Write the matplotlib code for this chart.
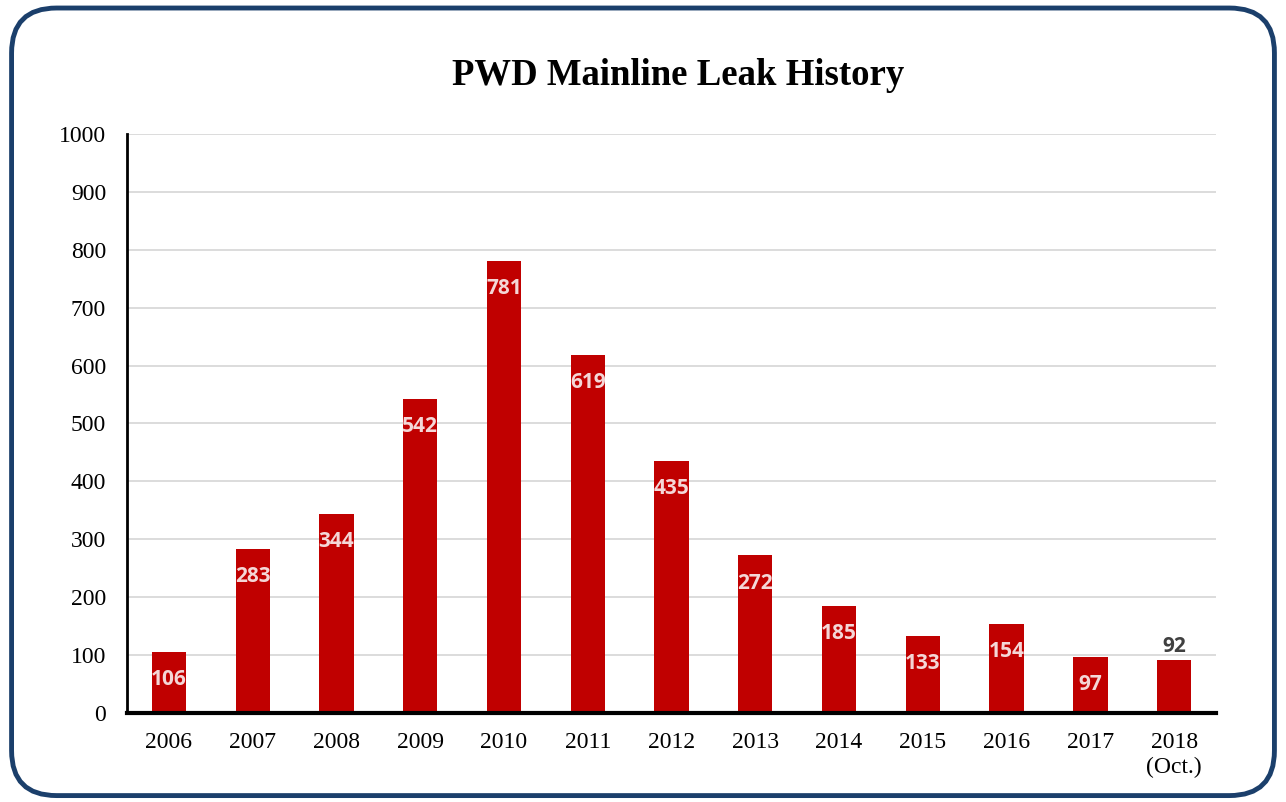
import matplotlib
matplotlib.use("Agg")
import matplotlib.pyplot as plt
from matplotlib.patches import FancyBboxPatch

# Data
years = ['2006', '2007', '2008', '2009', '2010', '2011', '2012',
         '2013', '2014', '2015', '2016', '2017', '2018\n(Oct.)']
leaks = [106, 283, 344, 542, 781, 619, 435, 272, 185, 133, 154, 97, 92]
yticks = list(range(0, 1001, 100))

bar_color = '#C00000'

fig = plt.figure(figsize=(12.86, 8.02), dpi=100)

# rounded frame around the whole chart
frame = FancyBboxPatch((0.009, 0.008), 0.982, 0.982,
                       boxstyle='round,pad=0,rounding_size=0.035',
                       transform=fig.transFigure, fill=False,
                       edgecolor='#1B3F6B', linewidth=3.5, mutation_aspect=1.6)
fig.patches.append(frame)

ax = fig.add_axes([0.0988, 0.111, 0.8468, 0.722])
x = list(range(len(years)))
bars = ax.bar(x, leaks, width=0.41, color=bar_color, zorder=3)

ax.set_xlim(-0.5, len(years) - 0.5)
ax.set_ylim(0, 1000)
ax.set_yticks(yticks)
ax.set_xticks(x)
ax.set_xticklabels(years, fontfamily='Liberation Serif', fontsize=17,
                   linespacing=1.2)
ax.set_yticklabels([str(t) for t in yticks], fontfamily='Liberation Serif',
                   fontsize=17)
ax.tick_params(axis='y', length=0, pad=15)
ax.tick_params(axis='x', length=0, pad=14)

ax.grid(axis='y', color='#D9D9D9', linewidth=1.3, zorder=0)
ax.set_axisbelow(True)
for s in ['top', 'right']:
    ax.spines[s].set_visible(False)
ax.spines['left'].set_linewidth(2)
ax.spines['bottom'].set_linewidth(3)
ax.spines['left'].set_zorder(4)
ax.spines['bottom'].set_zorder(4)

# value labels
for i, v in enumerate(leaks):
    if i == len(leaks) - 1:
        ax.text(i, v + 4, str(v), ha='center', va='bottom', color='#404040',
                fontfamily='Open Sans', fontweight='bold', fontsize=15, zorder=5)
    else:
        ax.text(i, v - 48, str(v), ha='center', va='center', color='#F4D7D7',
                fontfamily='Open Sans', fontweight='bold', fontsize=15, zorder=5)

fig.text(0.527, 0.906, 'PWD Mainline Leak History', ha='center', va='center',
         fontfamily='Liberation Serif', fontweight='bold', fontsize=26.5)

fig.savefig('out.png', dpi=100)
